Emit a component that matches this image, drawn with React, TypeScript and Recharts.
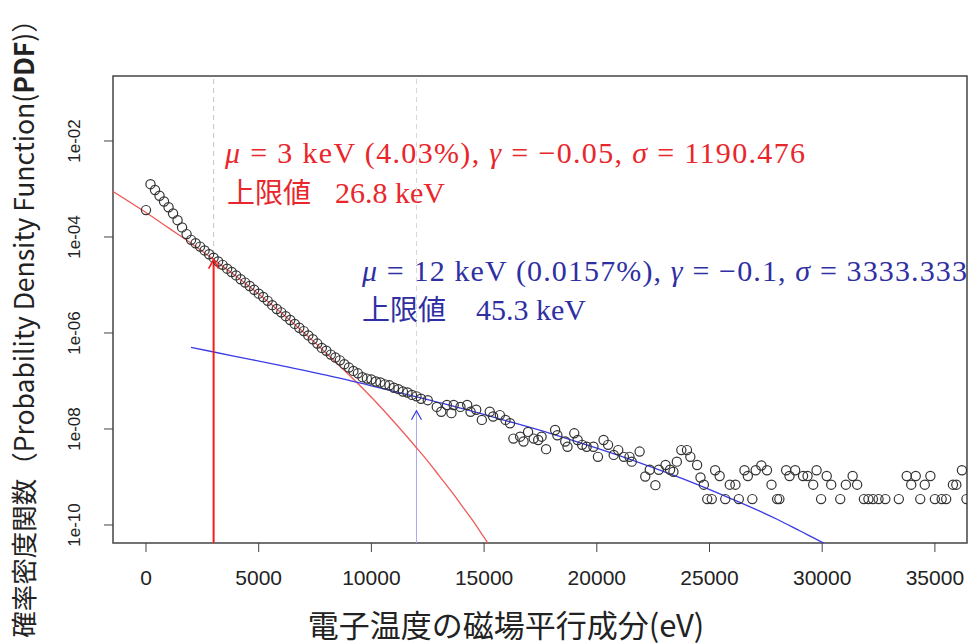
import React from 'react';
import {
  ComposedChart,
  Line,
  Scatter,
  XAxis,
  YAxis,
  ReferenceLine,
  ReferenceArea,
  Customized,
} from 'recharts';

// observed PDF, [energy eV, log10 density]
const coreBins = [
  [0, -3.44], [200, -2.9], [400, -3.02], [600, -3.14], [800, -3.26], [1000, -3.38],
  [1200, -3.51], [1400, -3.65], [1600, -3.8], [1800, -3.94], [2000, -4.06], [2200, -4.13],
  [2400, -4.2], [2600, -4.28], [2800, -4.36], [3000, -4.43], [3200, -4.51], [3400, -4.58],
  [3600, -4.66], [3800, -4.73], [4000, -4.8], [4200, -4.88], [4400, -4.95], [4600, -5.02],
  [4800, -5.1], [5000, -5.18], [5200, -5.25], [5400, -5.33], [5600, -5.42], [5800, -5.5],
  [6000, -5.57], [6200, -5.65], [6400, -5.73], [6600, -5.81], [6800, -5.89], [7000, -5.96],
  [7200, -6.05], [7400, -6.13], [7600, -6.22], [7800, -6.31], [8000, -6.37], [8200, -6.45],
  [8400, -6.51], [8600, -6.57], [8800, -6.65], [9000, -6.72], [9200, -6.79], [9400, -6.84],
  [9600, -6.92], [9800, -6.95], [10000, -6.97], [10200, -7.01], [10400, -7.03], [10600, -7.07],
  [10800, -7.09], [11000, -7.14], [11200, -7.17], [11400, -7.22], [11600, -7.24], [11800, -7.29],
  [12000, -7.32], [12200, -7.37],
];

const midBins = [
  [12500, -7.4], [12900, -7.54], [13100, -7.64], [13350, -7.5], [13550, -7.67], [13650, -7.5],
  [13950, -7.54], [14250, -7.5], [14400, -7.64], [14650, -7.6], [14900, -7.81], [15250, -7.64],
  [15400, -7.74], [15700, -7.71], [15950, -7.81], [16150, -7.88], [16300, -8.2], [16600, -8.16],
  [16750, -8.26], [16950, -8.06], [17200, -8.2], [17400, -8.23], [17550, -8.16], [17750, -8.42],
  [18150, -8.02], [18250, -8.13], [18600, -8.26], [18700, -8.37], [19000, -8.09], [19150, -8.23],
  [19350, -8.33], [19550, -8.37], [19850, -8.37], [20050, -8.58], [20300, -8.23], [20500, -8.33],
  [20750, -8.54], [20950, -8.44], [21200, -8.58], [21450, -8.58], [21550, -8.68], [21900, -8.47],
  [22150, -8.99], [22350, -8.85], [22600, -9.17], [22750, -8.85], [23050, -8.75], [23250, -8.85],
  [23400, -8.89], [23550, -8.68], [23750, -8.44], [24000, -8.44], [24150, -8.58], [24450, -8.75],
  [24600, -9.01], [24750, -9.16], [24900, -9.46], [25100, -9.46], [25250, -8.86], [25450, -8.98],
];

const tailBins = [
  [25700, -9.46], [25900, -9.16], [26150, -9.16], [26300, -9.46], [26550, -8.86], [26700, -8.98],
  [26900, -9.46], [27050, -8.86], [27300, -8.76], [27550, -8.86], [27750, -9.16], [28000, -9.46],
  [28100, -9.46], [28400, -8.86], [28550, -8.98], [28800, -8.86], [29150, -8.98], [29350, -8.98],
  [29600, -9.16], [29750, -8.86], [29950, -9.46], [30200, -8.98], [30400, -9.16], [30800, -9.46],
  [31050, -9.16], [31350, -8.98], [31550, -9.16], [31850, -9.46], [32050, -9.46], [32250, -9.46],
  [32500, -9.46], [32800, -9.46], [33400, -9.46], [33750, -8.98], [33950, -9.16], [34150, -8.98],
  [34350, -9.46], [34550, -9.16], [34800, -8.98], [35000, -9.46], [35300, -9.46], [35500, -9.46],
  [35800, -9.16], [35950, -9.16], [36200, -8.86], [36400, -9.46],
];

// fitted GPD curves
const redFit = [
  [-1500, -3.04], [0, -3.49], [1000, -3.81], [2000, -4.13], [3000, -4.47], [4000, -4.82],
  [5000, -5.19], [6000, -5.58], [7000, -5.99], [8000, -6.42], [9000, -6.87], [10000, -7.34],
  [11000, -7.85], [12000, -8.39], [12500, -8.67], [13000, -8.97], [13500, -9.27], [14000, -9.59],
  [14500, -9.91], [15000, -10.26], [15500, -10.61],
];
const blueFit = [
  [2000, -6.3], [4000, -6.49], [6000, -6.68], [8000, -6.88], [10000, -7.1], [12000, -7.33],
  [14000, -7.57], [16000, -7.83], [18000, -8.1], [20000, -8.4], [22000, -8.72], [24000, -9.07],
  [26000, -9.46], [28000, -9.88], [29000, -10.12], [30000, -10.36], [30500, -10.49],
];

const thresholdRed = { energy: 3000, pdf: -4.47 };
const thresholdBlue = { energy: 12000, pdf: -7.62 };

const xTicks = [0, 5000, 10000, 15000, 20000, 25000, 30000, 35000];
const yTicks = [-10, -8, -6, -4, -2];
const X_DOMAIN = [-1464, 36424];
const Y_DOMAIN = [-10.375, -0.646];

const toRows = (arr: number[][]) => arr.map(([energy, pdf]) => ({ energy, pdf }));

const observed = toRows([...coreBins, ...midBins, ...tailBins]);

const OpenCircle = (props: any) => (
  <circle cx={props.cx} cy={props.cy} r={4.6} fill="none" stroke="#333" strokeWidth={1.2} />
);

const Chevron = (color: string, w: number) => (props: any) => (
  <path
    d={`M${props.cx - 5},${props.cy + 9} L${props.cx},${props.cy} L${props.cx + 5},${props.cy + 9}`}
    fill="none"
    stroke={color}
    strokeWidth={w}
  />
);

const YTick = (props: any) => {
  const { x, y, payload } = props;
  const label = `1e-${String(-payload.value).padStart(2, '0')}`;
  return (
    <text
      x={x}
      y={y}
      transform={`rotate(-90 ${x} ${y})`}
      textAnchor="middle"
      dominantBaseline="central"
      fontSize={17}
      fontFamily="Liberation Sans, Arial, sans-serif"
      fill="#222"
    >
      {label}
    </text>
  );
};

const serif = 'Liberation Serif, Times New Roman, serif';
const cjk = 'Noto Sans CJK JP, sans-serif';

const Decorations = () => (
  <g>
    <text
      x={22}
      y={322}
      transform="rotate(-90 22 322)"
      textAnchor="middle"
      dominantBaseline="central"
      fontSize={26.5}
      fontFamily={cjk}
      fill="#222"
    >
      確率密度関数（Probability Density Function(<tspan fontWeight="bold">PDF</tspan>)）
    </text>
    <text x={506} y={623} textAnchor="middle" dominantBaseline="central" fontSize={31} fontFamily={cjk} fill="#222">
      電子温度の磁場平行成分(eV)
    </text>

    <text x={225} y={163} fontSize={30} fontFamily={serif} fill="#e8262b" textLength={580}>
      <tspan fontStyle="italic">μ</tspan> = 3 keV (4.03%), <tspan fontStyle="italic">γ</tspan> = −0.05,{' '}
      <tspan fontStyle="italic">σ</tspan> = 1190.476
    </text>
    <text x={227} y={203} fontSize={30} fill="#e8262b">
      <tspan fontFamily={cjk} fontSize={28}>上限値</tspan>
      <tspan fontFamily={serif} dx={24}>26.8 keV</tspan>
    </text>

    <text x={362} y={281} fontSize={30} fontFamily={serif} fill="#2f2fa3" textLength={605}>
      <tspan fontStyle="italic">μ</tspan> = 12 keV (0.0157%), <tspan fontStyle="italic">γ</tspan> = −0.1,{' '}
      <tspan fontStyle="italic">σ</tspan> = 3333.333
    </text>
    <text x={362} y={320} fontSize={30} fill="#2f2fa3">
      <tspan fontFamily={cjk} fontSize={28}>上限値</tspan>
      <tspan fontFamily={serif} dx={30}>45.3 keV</tspan>
    </text>
  </g>
);

export default function App() {
  return (
    <div style={{ position: 'absolute', left: 0, top: 0, background: '#fff' }}>
      <ComposedChart width={969} height={644} margin={{ top: 76, right: 2, bottom: 0, left: 0 }}>
        <XAxis
          type="number"
          dataKey="energy"
          domain={X_DOMAIN}
          allowDataOverflow
          ticks={xTicks}
          tickSize={9}
          tickMargin={18}
          height={101}
          axisLine={false}
          tickLine={{ stroke: '#444' }}
          tick={{ fontSize: 21, fill: '#222', fontFamily: 'Liberation Sans, Arial, sans-serif' }}
        />
        <YAxis
          type="number"
          domain={Y_DOMAIN}
          allowDataOverflow
          ticks={yTicks}
          tickSize={9}
          tickMargin={29}
          width={113}
          axisLine={false}
          tickLine={{ stroke: '#444' }}
          tick={<YTick />}
        />
        <ReferenceArea
          x1={X_DOMAIN[0]}
          x2={X_DOMAIN[1]}
          y1={Y_DOMAIN[0]}
          y2={Y_DOMAIN[1]}
          fill="none"
          stroke="#444"
          strokeWidth={1.5}
          fillOpacity={0}
        />
        <ReferenceLine x={3000} stroke="#c4c4c4" strokeDasharray="5 4" />
        <ReferenceLine x={12000} stroke="#d6d6d6" strokeDasharray="5 4" />
        <ReferenceLine
          segment={[
            { x: thresholdBlue.energy, y: Y_DOMAIN[0] },
            { x: thresholdBlue.energy, y: thresholdBlue.pdf },
          ]}
          stroke="#a8a8f0"
          strokeWidth={1}
        />
        <Line
          data={toRows(redFit)}
          dataKey="pdf"
          type="monotone"
          stroke="#ef5a5a"
          strokeWidth={1.3}
          dot={false}
          isAnimationActive={false}
        />
        <Line
          data={toRows(blueFit)}
          dataKey="pdf"
          type="monotone"
          stroke="#3a3ae6"
          strokeWidth={1.3}
          dot={false}
          isAnimationActive={false}
        />
        <Scatter data={observed} dataKey="pdf" shape={<OpenCircle />} isAnimationActive={false} />
        <ReferenceLine
          segment={[
            { x: thresholdRed.energy, y: Y_DOMAIN[0] },
            { x: thresholdRed.energy, y: thresholdRed.pdf },
          ]}
          stroke="#ff1a1a"
          strokeWidth={2}
        />
        <Scatter data={[thresholdRed]} dataKey="pdf" shape={Chevron('#ff1a1a', 1.6)} isAnimationActive={false} />
        <Scatter data={[thresholdBlue]} dataKey="pdf" shape={Chevron('#3a3ae6', 1.2)} isAnimationActive={false} />
        <Customized component={<Decorations />} />
      </ComposedChart>
    </div>
  );
}
